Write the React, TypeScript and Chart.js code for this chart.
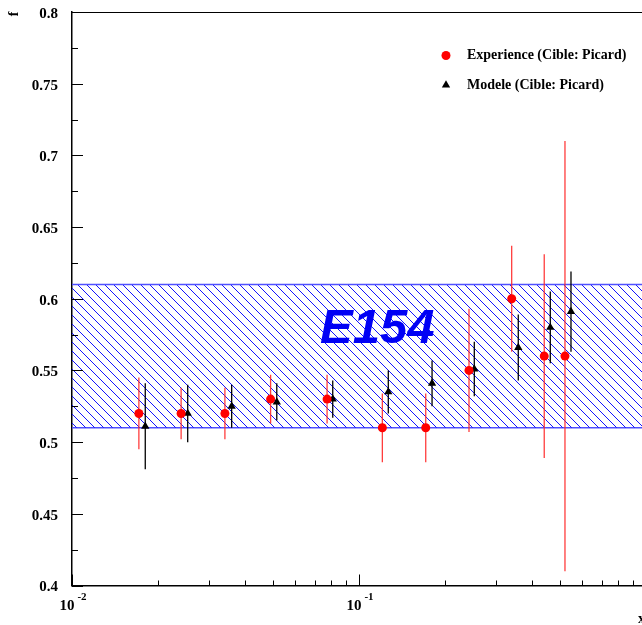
import React, { useEffect, useRef } from 'react';
import { Chart, registerables } from 'chart.js';

Chart.register(...registerables);

// ---- data ----
const xExp = [0.0171, 0.024, 0.0341, 0.0492, 0.0774, 0.1206, 0.1708, 0.2417, 0.3404, 0.442, 0.522];
const fExp = [0.52, 0.52, 0.52, 0.53, 0.53, 0.51, 0.51, 0.55, 0.6, 0.56, 0.56];
const errExp = [0.025, 0.018, 0.018, 0.017, 0.017, 0.024, 0.024, 0.043, 0.037, 0.071, 0.15];

const xMod = [0.018, 0.0253, 0.036, 0.0517, 0.081, 0.1265, 0.1797, 0.2522, 0.3589, 0.464, 0.5478];
const fMod = [0.511, 0.52, 0.525, 0.528, 0.53, 0.535, 0.541, 0.551, 0.566, 0.58, 0.591];
const errMod = [0.03, 0.02, 0.015, 0.013, 0.013, 0.015, 0.016, 0.019, 0.023, 0.025, 0.028];

const bandTop = 0.61;
const bandBottom = 0.51;
const bandLabel = 'E154';
const bandLabelX = 0.0731;
const bandLabelY = 0.5689;

const xMin = 0.01;
const xMax = 0.9684;
const yMin = 0.4;
const yMax = 0.8;
const yStep = 0.025;
const xDecades = [0.01, 0.1];
const xDecadeExponents = ['-2', '-1'];

const expLabel = 'Experience (Cible: Picard)';
const modLabel = 'Modele (Cible: Picard)';
const xTitle = 'x';
const yTitle = 'f';

const SERIF = '"Liberation Serif", "Times New Roman", serif';

function makePattern(): CanvasPattern | string {
  const c = document.createElement('canvas');
  const n = 9;
  c.width = n;
  c.height = n;
  const g = c.getContext('2d');
  if (!g) return 'rgba(0,0,255,0.2)';
  g.fillStyle = 'rgb(20,20,255)';
  for (let i = 0; i < n; i++) g.fillRect(i, i, 1, 1);
  return g.createPattern(c, 'repeat') || 'rgba(0,0,255,0.2)';
}

const isMajorY = (v: number) => Math.abs(v * 20 - Math.round(v * 20)) < 1e-6;

const errorBarsPlugin = {
  id: 'errorBars',
  beforeDatasetDraw(chart: any, args: any) {
    const ds = chart.data.datasets[args.index];
    if (!ds.errors) return;
    const { ctx, chartArea } = chart;
    const xs = chart.scales.x;
    const ys = chart.scales.y;
    ctx.save();
    ctx.beginPath();
    ctx.rect(chartArea.left, chartArea.top, chartArea.right - chartArea.left, chartArea.bottom - chartArea.top);
    ctx.clip();
    ctx.strokeStyle = ds.errorColor;
    ctx.lineWidth = 1.3;
    ds.data.forEach((p: any, i: number) => {
      const px = xs.getPixelForValue(p.x);
      ctx.beginPath();
      ctx.moveTo(px, ys.getPixelForValue(p.y + ds.errors[i]));
      ctx.lineTo(px, ys.getPixelForValue(p.y - ds.errors[i]));
      ctx.stroke();
    });
    ctx.restore();
  },
};

const decorPlugin = {
  id: 'decor',
  afterDraw(chart: any) {
    const { ctx, chartArea } = chart;
    const xs = chart.scales.x;
    const ys = chart.scales.y;
    const { left, right, top, bottom } = chartArea;
    ctx.save();
    ctx.strokeStyle = '#000';
    ctx.lineWidth = 1;

    // top frame line
    ctx.beginPath();
    ctx.moveTo(left, top + 0.5);
    ctx.lineTo(right, top + 0.5);
    ctx.stroke();

    // y tick marks (inside)
    ys.ticks.forEach((t: any) => {
      const py = Math.round(ys.getPixelForValue(t.value)) + 0.5;
      const len = isMajorY(t.value) ? 11 : 6;
      ctx.beginPath();
      ctx.moveTo(left, py);
      ctx.lineTo(left + len, py);
      ctx.stroke();
    });

    // x tick marks (inside)
    xDecades.forEach((d) => {
      for (let m = 1; m <= 9; m++) {
        const v = m * d;
        if (v < xMin - 1e-9 || v > xMax) continue;
        const px = Math.round(xs.getPixelForValue(v)) + 0.5;
        const len = m === 1 ? 11 : 5;
        ctx.beginPath();
        ctx.moveTo(px, bottom);
        ctx.lineTo(px, bottom - len);
        ctx.stroke();
      }
    });

    // x decade labels 10^n
    ctx.fillStyle = '#000';
    xDecades.forEach((d, i) => {
      const px = xs.getPixelForValue(d);
      ctx.font = `bold 15px ${SERIF}`;
      const wBase = ctx.measureText('10').width;
      ctx.font = `bold 11px ${SERIF}`;
      const wExp = ctx.measureText(xDecadeExponents[i]).width;
      const total = wBase + 3 + wExp;
      const start = px + 1 - total / 2;
      ctx.textBaseline = 'middle';
      ctx.textAlign = 'left';
      ctx.font = `bold 15px ${SERIF}`;
      ctx.fillText('10', start, bottom + 21);
      ctx.font = `bold 11px ${SERIF}`;
      ctx.fillText(xDecadeExponents[i], start + wBase + 3, bottom + 12);
    });

    // axis titles
    ctx.font = `bold 14px ${SERIF}`;
    ctx.textAlign = 'center';
    ctx.textBaseline = 'middle';
    ctx.save();
    ctx.translate(14, top + 2);
    ctx.rotate(-Math.PI / 2);
    ctx.fillText(yTitle, 0, 0);
    ctx.restore();
    ctx.textAlign = 'left';
    ctx.fillText(xTitle, 638, bottom + 34);

    // band label
    ctx.font = `italic bold 49px "Liberation Sans", Arial, sans-serif`;
    ctx.fillStyle = 'rgb(0,0,245)';
    ctx.textAlign = 'left';
    ctx.textBaseline = 'alphabetic';
    ctx.fillText(bandLabel, xs.getPixelForValue(bandLabelX), ys.getPixelForValue(bandLabelY));

    // legend
    const lx = left + 374;
    const ly1 = top + 43.5;
    const ly2 = top + 73;
    ctx.fillStyle = 'rgb(255,0,0)';
    ctx.beginPath();
    ctx.arc(lx, ly1, 4.5, 0, Math.PI * 2);
    ctx.fill();
    const r = 4.8;
    ctx.fillStyle = '#000';
    ctx.beginPath();
    ctx.moveTo(lx, ly2 - r);
    ctx.lineTo(lx + r * Math.sin((2 * Math.PI) / 3), ly2 + r / 2);
    ctx.lineTo(lx - r * Math.sin((2 * Math.PI) / 3), ly2 + r / 2);
    ctx.closePath();
    ctx.fill();
    ctx.font = `bold 14px ${SERIF}`;
    ctx.textBaseline = 'middle';
    ctx.fillText(expLabel, lx + 21, ly1);
    ctx.fillText(modLabel, lx + 21, ly2);

    ctx.restore();
  },
};

export default function App() {
  const ref = useRef<HTMLCanvasElement | null>(null);

  useEffect(() => {
    if (!ref.current) return;
    const pattern = makePattern();
    const chart = new Chart(ref.current, {
      type: 'scatter',
      data: {
        datasets: [
          {
            label: expLabel,
            data: xExp.map((x, i) => ({ x, y: fExp[i] })),
            pointStyle: 'circle',
            pointRadius: 4.5,
            backgroundColor: 'rgb(255,0,0)',
            borderWidth: 0,
            order: 1,
            errors: errExp,
            errorColor: 'rgba(255,40,40,0.9)',
          } as any,
          {
            label: modLabel,
            data: xMod.map((x, i) => ({ x, y: fMod[i] })),
            pointStyle: 'triangle',
            pointRadius: 4.8,
            backgroundColor: '#000',
            borderColor: '#000',
            borderWidth: 0,
            order: 2,
            errors: errMod,
            errorColor: '#000',
          } as any,
          {
            type: 'line',
            label: 'band top',
            data: [
              { x: xMin, y: bandTop },
              { x: xMax, y: bandTop },
            ],
            borderColor: 'rgb(80,80,255)',
            borderWidth: 1.5,
            pointRadius: 0,
            fill: '+1',
            backgroundColor: pattern as any,
            order: 5,
          } as any,
          {
            type: 'line',
            label: 'band bottom',
            data: [
              { x: xMin, y: bandBottom },
              { x: xMax, y: bandBottom },
            ],
            borderColor: 'rgb(80,80,255)',
            borderWidth: 1.5,
            pointRadius: 0,
            fill: false,
            order: 6,
          } as any,
        ],
      },
      options: {
        responsive: false,
        animation: false,
        devicePixelRatio: 1,
        layout: { autoPadding: false, padding: { top: 12, left: 0, right: 0, bottom: 0 } },
        plugins: {
          legend: { display: false },
          tooltip: { enabled: false },
        },
        scales: {
          x: {
            type: 'logarithmic',
            min: xMin,
            max: xMax,
            grid: { display: false, drawTicks: false },
            ticks: { display: false },
            border: { display: true, color: '#000', width: 1.5 },
            afterFit: (s: any) => {
              s.height = 39.5;
              s.paddingLeft = 0;
              s.paddingRight = 0;
            },
          },
          y: {
            type: 'linear',
            min: yMin,
            max: yMax,
            grid: { display: false, drawTicks: false },
            border: { display: true, color: '#000', width: 1.5 },
            ticks: {
              stepSize: yStep,
              autoSkip: false,
              padding: 14,
              labelOffset: 2,
              color: '#000',
              font: { family: SERIF, size: 15, weight: 'bold' },
              callback: (v: any) => (isMajorY(Number(v)) ? String(parseFloat(Number(v).toFixed(2))) : ''),
            },
            afterFit: (s: any) => {
              s.width = 72;
              s.paddingTop = 0;
              s.paddingBottom = 0;
            },
          },
        },
      },
      plugins: [errorBarsPlugin, decorPlugin],
    });
    return () => chart.destroy();
  }, []);

  return (
    <div style={{ position: 'absolute', left: 0, top: 0, width: 642, height: 625, background: '#fff' }}>
      <canvas ref={ref} width={642} height={625} />
    </div>
  );
}
